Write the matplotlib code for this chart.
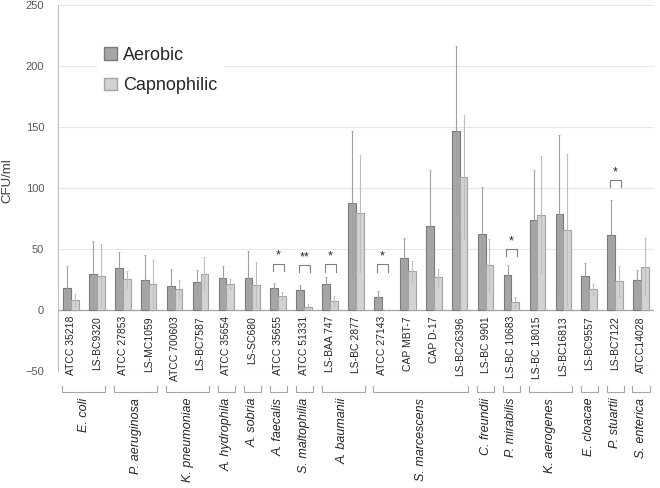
import numpy as np
import matplotlib
matplotlib.use("Agg")
import matplotlib.pyplot as plt
from matplotlib.patches import Patch

plt.rcParams['font.family'] = ['Liberation Sans', 'DejaVu Sans']

# strains in plotting order
strains = ['ATCC 35218', 'LS-BC9320', 'ATCC 27853', 'LS-MC1059', 'ATCC 700603',
           'LS-BC7587', 'ATCC 35654', 'LS-SC680', 'ATCC 35655', 'ATCC 51331',
           'LS-BAA 747', 'LS-BC 2877', 'ATCC 27143', 'CAP MBT-7', 'CAP D-17',
           'LS-BC26396', 'LS-BC 9901', 'LS-BC 10683', 'LS-BC 18015', 'LS-BC16813',
           'LS-BC9557', 'LS-BC7122', 'ATCC14028']
aerobic = [18.3, 29.2, 34.4, 24.9, 19.7, 23.0, 26.2, 26.2, 18.3, 16.4, 21.0, 87.4,
           10.4, 42.9, 68.6, 146.7, 62.6, 28.9, 73.8, 78.4, 27.9, 61.5, 24.3]
aerobic_err = [18, 27.6, 13.4, 20, 13.6, 10, 10, 22, 3.6, 3.8, 6, 59,
               5, 16, 46, 70, 38, 8, 41, 65, 10.4, 28.4, 8.5]
capno = [8.2, 28.1, 25.1, 21.3, 17.2, 29.8, 21.3, 20.8, 11.5, 2.7, 7.4, 79.2,
         0.3, 31.7, 26.8, 109.0, 36.9, 6.3, 77.9, 65.6, 17.0, 23.5, 35.5]
capno_err = [5, 26, 7, 19.7, 7.4, 13.4, 4, 18.5, 3, 2, 4, 48,
             0, 8.5, 7, 51, 21.6, 4, 48, 62, 4.4, 12.5, 23.5]

species = ['E. coli', 'P. aeruginosa', 'K. pneumoniae', 'A. hydrophila', 'A. sobria',
           'A. faecalis', 'S. maltophilia', 'A. baumanii', 'S. marcescens', 'C. freundii',
           'P. mirabilis', 'K. aerogenes', 'E. cloacae', 'P. stuartii', 'S. enterica']
species_n = [2, 2, 2, 1, 1, 1, 1, 2, 4, 1, 1, 2, 1, 1, 1]

# significance marks: strain index, stars, bracket top
sig_idx = [8, 9, 10, 12, 17, 21]
sig_txt = ['*', '**', '*', '*', '*', '*']
sig_y = [38, 37, 37.5, 37.5, 50, 106.5]

fig = plt.figure(figsize=(6.6, 4.88), dpi=100)
ax = fig.add_axes([0.0879, 0.2398, 0.903, 0.75])

x = np.arange(len(strains))
w = 0.3
ax.bar(x - w/2, aerobic, w, color='#A6A6A6', edgecolor='#7A7A7A', linewidth=0.8, zorder=3)
ax.bar(x + w/2, capno, w, color='#D3D3D3', edgecolor='#A3A3A3', linewidth=0.8, zorder=3)
ax.errorbar(x - w/2, aerobic, yerr=aerobic_err, fmt='none', ecolor='#A0A0A0',
            elinewidth=0.8, capsize=1, capthick=0.6, zorder=4)
ax.errorbar(x + w/2, capno, yerr=capno_err, fmt='none', ecolor='#BDBDBD',
            elinewidth=0.8, capsize=1, capthick=0.6, zorder=4)

ax.set_xlim(-0.5, len(strains) - 0.5)
ax.set_ylim(-50, 250)
ax.set_yticks(np.arange(-50, 251, 50))
ax.tick_params(axis='y', length=0, labelsize=8, labelcolor='#595959', pad=10)
ax.set_xticks([])
ax.grid(axis='y', color='#E6E6E6', linewidth=0.8, zorder=0)
ax.axhline(0, color='#A6A6A6', linewidth=0.9, zorder=2)
for s in ['top', 'right', 'bottom']:
    ax.spines[s].set_visible(False)
ax.spines['left'].set_color('#BFBFBF')
ax.set_ylabel('CFU/ml', fontsize=9.5, color='#404040')
ax.yaxis.set_label_coords(-0.075, 0.52)

# strain names under the zero line
for i, s in enumerate(strains):
    ax.text(i, -5, s, rotation=90, ha='center', va='top', fontsize=7.5, color='#262626')

# species brackets and names
start = 0
for sp, n in zip(species, species_n):
    x0 = start - 0.5 + 0.17
    x1 = start + n - 0.5 - 0.17
    ax.plot([x0, x0, x1, x1], [-62, -67, -67, -62], color='#A6A6A6', lw=0.8, clip_on=False)
    ax.text((x0 + x1) / 2, -72, sp, rotation=90, ha='center', va='top',
            fontsize=9, style='italic', color='#262626')
    start += n

# significance brackets
for i, t, yb in zip(sig_idx, sig_txt, sig_y):
    x0 = i - 0.2
    x1 = i + 0.22
    ax.plot([x0, x0, x1, x1], [yb - 6, yb, yb, yb - 6], color='#808080', lw=0.8, zorder=5)
    ax.text(i, yb + 1.5, t, ha='center', va='bottom', fontsize=9, color='#262626')

handles = [Patch(facecolor='#A6A6A6', edgecolor='#7A7A7A'),
           Patch(facecolor='#D3D3D3', edgecolor='#A3A3A3')]
leg = ax.legend(handles, ['Aerobic', 'Capnophilic'], loc='upper left',
                bbox_to_anchor=(0.05, 0.93), fontsize=13, frameon=True,
                handlelength=0.7, handleheight=0.7, handletextpad=0.35,
                labelspacing=0.75, borderpad=0.4)
leg.get_frame().set_facecolor('white')
leg.get_frame().set_edgecolor('none')
leg.get_frame().set_alpha(1)
for txt in leg.get_texts():
    txt.set_color('#262626')

fig.savefig('out.png', dpi=100)
